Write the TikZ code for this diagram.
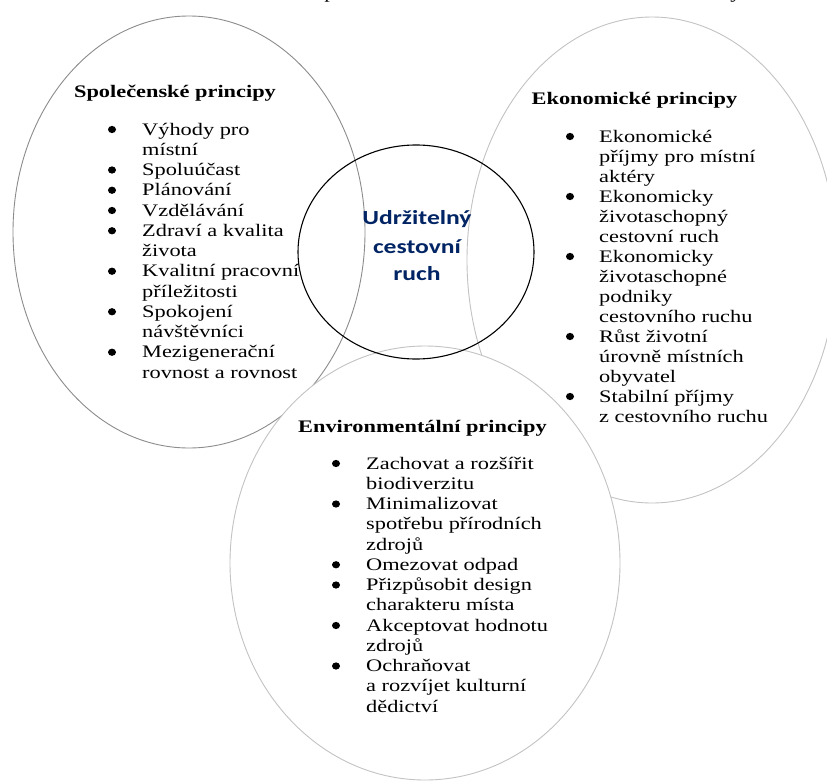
\documentclass[tikz,border=0pt]{standalone}
\usepackage{fontspec}
\setmainfont{Liberation Serif}[FakeStretch=1.27]
\newfontfamily\calfont{Carlito}[FakeStretch=1.28]
\definecolor{navyt}{RGB}{0,36,100}
\definecolor{gdark}{RGB}{140,140,140}
\definecolor{glight}{RGB}{195,195,195}
\begin{document}
\begin{tikzpicture}[x=1bp,y=-1bp,
  txt/.style={inner sep=0pt, anchor=base west, font=\fontsize{17.6bp}{20.25bp}\selectfont},
  ttl/.style={inner sep=0pt, anchor=base, font=\fontsize{17.6bp}{20.25bp}\selectfont\bfseries},
  ctx/.style={inner sep=0pt, anchor=base, text=navyt, font=\fontsize{20bp}{28bp}\selectfont\calfont\bfseries},
  bul/.style={fill=black},
  ring/.style={line width=0.9bp, fill=white}]
\useasboundingbox (0,0) rectangle (827,782);
\fill[white] (0,0) rectangle (827,782);
% circles
\draw[ring, draw=gdark] (189,232) ellipse [x radius=176bp, y radius=216bp];
\draw[ring, draw=glight] (652,260) ellipse [x radius=185bp, y radius=243bp];
\draw[ring, draw=glight] (425,563) ellipse [x radius=195bp, y radius=217bp];
% cut-off caption fragments
\node[txt, anchor=base] (frag1) at (330,-1) {p};
\node[txt, anchor=base] (frag2) at (736,-1) {y};
% left block
\node[ttl] (tl) at (175,97) {Společenské principy};
\foreach \t [count=\i from 0] in {Výhody pro, místní, Spoluúčast, Plánování, Vzdělávání, Zdraví a kvalita, života, Kvalitní pracovní, příležitosti, Spokojení, návštěvníci, Mezigenerační, rovnost a rovnost}
  \node[txt] (l\i) at (142,{135+20.25*\i}) {\t};
\foreach \i in {0,2,3,4,5,7,9,11}
  \fill[bul] (112,{135+20.25*\i-5.5}) ellipse [x radius=4bp, y radius=3.6bp];
% right block
\node[ttl] (tr) at (634.5,104) {Ekonomické principy};
\foreach \t [count=\i from 0] in {Ekonomické, příjmy pro místní, aktéry, Ekonomicky, životaschopný, cestovní ruch, Ekonomicky, životaschopné, podniky, cestovního ruchu, Růst životní, úrovně místních, obyvatel, Stabilní příjmy, z cestovního ruchu}
  \node[txt] (r\i) at (599,{142+20*\i}) {\t};
\foreach \i in {0,3,6,10,13}
  \fill[bul] (570,{142+20*\i-5.5}) ellipse [x radius=4bp, y radius=3.6bp];
% bottom block
\node[ttl] (tb) at (422.5,432) {Environmentální principy};
\foreach \t [count=\i from 0] in {Zachovat a rozšířit, biodiverzitu, Minimalizovat, spotřebu přírodních, zdrojů, Omezovat odpad, Přizpůsobit design, charakteru místa, Akceptovat hodnotu, zdrojů, Ochraňovat, a rozvíjet kulturní, dědictví}
  \node[txt] (b\i) at (366,{469+20.25*\i}) {\t};
\foreach \i in {0,2,5,6,8,10}
  \fill[bul] (336,{469+20.25*\i-5.5}) ellipse [x radius=4bp, y radius=3.6bp];
% centre
\draw[black, line width=1.1bp] (416,252) ellipse [x radius=118bp, y radius=107bp];
\node[ctx] (c1) at (417,224) {Udržitelný};
\node[ctx] (c2) at (417,253) {cestovní};
\node[ctx] (c3) at (417,280) {ruch};
\end{tikzpicture}
\end{document}
